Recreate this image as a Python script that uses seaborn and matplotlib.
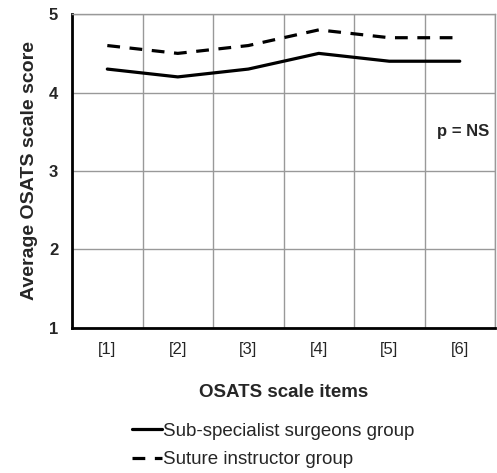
import matplotlib
matplotlib.use("Agg")
import matplotlib.pyplot as plt
import numpy as np
import pandas as pd
import seaborn as sns

# --- data ---
items = ["[1]", "[2]", "[3]", "[4]", "[5]", "[6]"]
subspecialist = [4.3, 4.2, 4.3, 4.5, 4.4, 4.4]
instructor = [4.6, 4.5, 4.6, 4.8, 4.7, 4.7]
groups = ["Sub-specialist surgeons group", "Suture instructor group"]

df = pd.DataFrame({
    "pos": list(range(len(items))) * 2,
    "score": subspecialist + instructor,
    "group": [groups[0]] * len(items) + [groups[1]] * len(items),
})

sns.set_style("white")
plt.rcParams["font.family"] = ["Liberation Sans", "DejaVu Sans"]

fig = plt.figure(figsize=(4.97, 4.73), dpi=100)
ax = fig.add_axes([0.145, 0.307, 0.851, 0.663])

sns.lineplot(data=df, x="pos", y="score", style="group", color="black",
             dashes={groups[0]: "", groups[1]: (4, 3)}, linewidth=2.3,
             ax=ax, legend=False)

# gridlines between categories, Excel style
ax.set_xlim(-0.5, len(items) - 0.5)
ax.set_ylim(1, 5)
ax.set_xticks(np.arange(len(items)))
ax.set_xticklabels(items, fontsize=12)
ax.set_xticks(np.arange(-0.5, len(items)), minor=True)
ax.set_yticks([1, 2, 3, 4, 5])
ax.set_yticklabels(["1", "2", "3", "4", "5"], fontsize=12, fontweight="bold")
ax.tick_params(axis="x", which="major", length=0, pad=10)
ax.tick_params(axis="x", which="minor", length=4, width=1.5, color="black", direction="out")
ax.tick_params(axis="y", length=4, width=1.5, color="black", direction="out", pad=6)
ax.grid(True, which="minor", axis="x", color="#999999", linewidth=1)
ax.grid(True, which="major", axis="y", color="#999999", linewidth=1)

for side in ["left", "bottom"]:
    ax.spines[side].set_color("black")
    ax.spines[side].set_linewidth(2)
for side in ["top", "right"]:
    ax.spines[side].set_color("#999999")
    ax.spines[side].set_linewidth(1)

ax.set_xlabel("OSATS scale items", fontsize=13.5, fontweight="bold", labelpad=20)
ax.set_ylabel("Average OSATS scale score", fontsize=14, fontweight="bold", labelpad=8)

ax.text(5.05, 3.5, "p = NS", fontsize=12, fontweight="bold", ha="center", va="center")

handles = [plt.Line2D([], [], color="black", linewidth=2.3),
           plt.Line2D([], [], color="black", linewidth=2.3, dashes=(4, 3))]
fig.legend(handles, groups, loc="center", bbox_to_anchor=(0.55, 0.058),
           frameon=False, fontsize=13.5, handlelength=1.6, handletextpad=0.05,
           labelspacing=0.6)

fig.savefig("out.png", dpi=100)
